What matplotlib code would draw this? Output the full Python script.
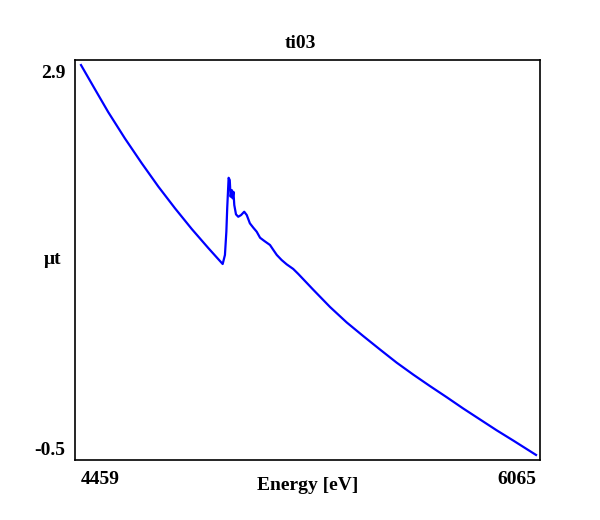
import matplotlib.pyplot as plt
import numpy as np

# Ti K-edge absorption scan
energy = [4459, 4508, 4555, 4614, 4673, 4732, 4791, 4850, 4908, 4959,
          4967, 4972, 4975, 4980, 4984, 4987, 4991, 4994, 4997, 5000,
          5006, 5014, 5024, 5035, 5044, 5055, 5067, 5079, 5091, 5106,
          5126, 5138, 5150, 5167, 5185, 5208, 5226, 5279, 5338, 5397,
          5455, 5514, 5573, 5632, 5691, 5750, 5808, 5867, 5926, 5985, 6065]
mu_t = [2.900, 2.690, 2.490, 2.260, 2.045, 1.840, 1.650, 1.470, 1.305, 1.165,
        1.244, 1.447, 1.651, 1.917, 1.897, 1.752, 1.810, 1.738, 1.795, 1.679,
        1.598, 1.577, 1.592, 1.621, 1.592, 1.520, 1.482, 1.447, 1.394, 1.366,
        1.331, 1.287, 1.244, 1.200, 1.162, 1.122, 1.078, 0.940, 0.790, 0.655,
        0.537, 0.420, 0.305, 0.200, 0.100, 0.003, -0.095, -0.190, -0.285, -0.375, -0.500]

x_ticks = [4459, 6065]
y_ticks = [-0.5, 2.9]

plt.rcParams['font.family'] = ['Liberation Serif', 'DejaVu Serif']
plt.rcParams['font.weight'] = 'bold'
plt.rcParams['font.size'] = 14

fig = plt.figure(figsize=(6, 5.2), dpi=100)
ax = fig.add_axes([0.125, 0.1154, 0.775, 0.7692])

ax.plot(energy, mu_t, color='#0000ff', lw=1.6)

ax.set_xlim(4437.8, 6079)
ax.set_ylim(-0.544, 2.944)

ax.set_xticks(x_ticks)
ax.set_xticklabels([str(v) for v in x_ticks])
ax.set_yticks(y_ticks)
ax.set_yticklabels([str(v) for v in y_ticks])
ax.tick_params(length=0)
ax.tick_params(axis='x', pad=8)
ax.tick_params(axis='y', pad=7)
xl = ax.get_xticklabels()
xl[0].set_ha('left')
xl[1].set_ha('right')
yl = ax.get_yticklabels()
yl[0].set_va('baseline')
yl[1].set_va('top')

for s in ax.spines.values():
    s.set_linewidth(1.2)

ax.set_xlabel('Energy [eV]', fontweight='bold')
ax.xaxis.set_label_coords(0.5, -0.042)
ax.set_ylabel('μt', rotation=0, ha='center', va='center', fontweight='bold')
ax.yaxis.set_label_coords(-0.049, 0.5)
ax.set_title('ti03', fontweight='bold', fontsize=14, x=0.484, pad=9)

fig.savefig('out.png', dpi=100, facecolor='white')
